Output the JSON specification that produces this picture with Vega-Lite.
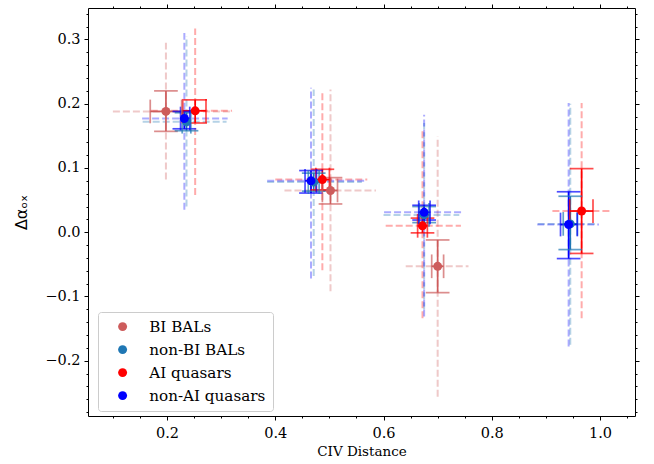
{
  "$schema": "https://vega.github.io/schema/vega-lite/v6.json",
  "autosize": {"type": "none"},
  "width": 547,
  "height": 408,
  "padding": {"left": 88, "top": 8, "right": 19, "bottom": 48},
  "background": "white",
  "config": {
    "view": {"stroke": "black", "strokeWidth": 1},
    "axis": {"grid": false, "domain": false, "tickColor": "black", "labelColor": "black", "titleColor": "black", "labelFont": "DejaVu Serif", "titleFont": "DejaVu Serif", "labelFontSize": 14.5, "titleFontSize": 13.5, "titleFontWeight": "normal"}
  },
  "data": {"values": [
    {"g": "BI BALs", "x": 0.198, "y": 0.188, "xl": 0.169, "xh": 0.227, "yl": 0.157, "yh": 0.220, "dxl": 0.100, "dxh": 0.322, "dyl": 0.082, "dyh": 0.295},
    {"g": "BI BALs", "x": 0.502, "y": 0.065, "xl": 0.487, "xh": 0.515, "yl": 0.044, "yh": 0.085, "dxl": 0.417, "dxh": 0.586, "dyl": -0.092, "dyh": 0.222},
    {"g": "BI BALs", "x": 0.700, "y": -0.053, "xl": 0.689, "xh": 0.711, "yl": -0.094, "yh": -0.012, "dxl": 0.641, "dxh": 0.757, "dyl": -0.256, "dyh": 0.149},
    {"g": "non-BI BALs", "x": 0.236, "y": 0.172, "xl": 0.228, "xh": 0.244, "yl": 0.158, "yh": 0.186, "dxl": 0.155, "dxh": 0.310, "dyl": 0.040, "dyh": 0.305},
    {"g": "non-BI BALs", "x": 0.471, "y": 0.078, "xl": 0.461, "xh": 0.481, "yl": 0.064, "yh": 0.092, "dxl": 0.385, "dxh": 0.560, "dyl": -0.068, "dyh": 0.222},
    {"g": "non-BI BALs", "x": 0.675, "y": 0.027, "xl": 0.666, "xh": 0.684, "yl": 0.015, "yh": 0.040, "dxl": 0.600, "dxh": 0.740, "dyl": -0.120, "dyh": 0.170},
    {"g": "non-BI BALs", "x": 0.945, "y": 0.013, "xl": 0.932, "xh": 0.958, "yl": -0.027, "yh": 0.056, "dxl": 0.885, "dxh": 0.995, "dyl": -0.175, "dyh": 0.200},
    {"g": "AI quasars", "x": 0.252, "y": 0.189, "xl": 0.229, "xh": 0.272, "yl": 0.170, "yh": 0.206, "dxl": 0.170, "dxh": 0.320, "dyl": 0.058, "dyh": 0.317},
    {"g": "AI quasars", "x": 0.487, "y": 0.082, "xl": 0.475, "xh": 0.500, "yl": 0.066, "yh": 0.098, "dxl": 0.400, "dxh": 0.570, "dyl": -0.059, "dyh": 0.219},
    {"g": "AI quasars", "x": 0.672, "y": 0.010, "xl": 0.663, "xh": 0.681, "yl": -0.001, "yh": 0.022, "dxl": 0.604, "dxh": 0.743, "dyl": -0.134, "dyh": 0.160},
    {"g": "AI quasars", "x": 0.966, "y": 0.033, "xl": 0.944, "xh": 0.987, "yl": -0.033, "yh": 0.099, "dxl": 0.912, "dxh": 1.018, "dyl": -0.134, "dyh": 0.201},
    {"g": "non-AI quasars", "x": 0.232, "y": 0.177, "xl": 0.225, "xh": 0.242, "yl": 0.161, "yh": 0.188, "dxl": 0.154, "dxh": 0.312, "dyl": 0.035, "dyh": 0.310},
    {"g": "non-AI quasars", "x": 0.466, "y": 0.080, "xl": 0.455, "xh": 0.476, "yl": 0.061, "yh": 0.096, "dxl": 0.385, "dxh": 0.565, "dyl": -0.072, "dyh": 0.225},
    {"g": "non-AI quasars", "x": 0.675, "y": 0.031, "xl": 0.665, "xh": 0.686, "yl": 0.019, "yh": 0.042, "dxl": 0.601, "dxh": 0.745, "dyl": -0.131, "dyh": 0.183},
    {"g": "non-AI quasars", "x": 0.942, "y": 0.012, "xl": 0.927, "xh": 0.958, "yl": -0.041, "yh": 0.063, "dxl": 0.884, "dxh": 0.998, "dyl": -0.178, "dyh": 0.201}
  ]},
  "resolve": {"axis": {"x": "independent", "y": "independent"}},
  "layer": [
    {
      "mark": {"type": "rule", "strokeDash": [7, 3], "strokeWidth": 2, "opacity": 0.33},
      "encoding": {
        "x": {"field": "x", "type": "quantitative", "scale": {"domain": [0.054, 1.0646], "nice": false, "zero": false},
              "axis": {"orient": "bottom", "values": [0.2, 0.4, 0.6, 0.8, 1.0], "format": ".1f", "title": "CIV Distance", "labelFont": "DejaVu Serif", "titleFont": "DejaVu Serif", "tickSize": 4, "labelPadding": 6, "titlePadding": 5}},
        "y": {"field": "dyl", "type": "quantitative", "scale": {"domain": [-0.286, 0.349], "nice": false, "zero": false},
              "axis": {"orient": "left", "values": [-0.2, -0.1, 0.0, 0.1, 0.2, 0.3], "format": ".1f", "title": "Δαₒₓ", "labelFont": "DejaVu Serif", "titleFont": "DejaVu Sans", "titleFontSize": 16, "tickSize": 4, "labelPadding": 4, "titlePadding": 15}},
        "y2": {"field": "dyh"},
        "stroke": {"field": "g", "type": "nominal", "scale": {"domain": ["non-AI quasars", "AI quasars", "non-BI BALs", "BI BALs"], "range": ["#0000ff", "#ff0000", "#1f77b4", "#cd5c5c"]}, "legend": null}
      }
    },
    {
      "mark": {"type": "rule", "strokeDash": [7, 3], "strokeWidth": 2, "opacity": 0.33},
      "encoding": {
        "x": {"field": "dxl", "type": "quantitative",
              "axis": {"orient": "bottom", "values": [0.1, 0.15, 0.25, 0.3, 0.35, 0.45, 0.5, 0.55, 0.65, 0.7, 0.75, 0.85, 0.9, 0.95, 1.05], "labels": false, "title": null, "tickSize": 2}},
        "x2": {"field": "dxh"},
        "y": {"field": "y", "type": "quantitative",
              "axis": {"orient": "left", "values": [-0.28, -0.26, -0.24, -0.22, -0.18, -0.16, -0.14, -0.12, -0.08, -0.06, -0.04, -0.02, 0.02, 0.04, 0.06, 0.08, 0.12, 0.14, 0.16, 0.18, 0.22, 0.24, 0.26, 0.28, 0.32, 0.34], "labels": false, "title": null, "tickSize": 2}},
        "stroke": {"field": "g", "type": "nominal", "legend": null}
      }
    },
    {
      "mark": {"type": "rule", "strokeWidth": 1.7},
      "encoding": {
        "x": {"field": "x", "type": "quantitative",
              "axis": {"orient": "top", "values": [0.2, 0.4, 0.6, 0.8, 1.0], "labels": false, "title": null, "tickSize": 4}},
        "y": {"field": "yl", "type": "quantitative",
              "axis": {"orient": "right", "values": [-0.2, -0.1, 0.0, 0.1, 0.2, 0.3], "labels": false, "title": null, "tickSize": 4}},
        "y2": {"field": "yh"},
        "stroke": {"field": "g", "type": "nominal", "legend": null}
      }
    },
    {
      "mark": {"type": "rule", "strokeWidth": 1.7},
      "encoding": {
        "x": {"field": "xl", "type": "quantitative",
              "axis": {"orient": "top", "values": [0.1, 0.15, 0.25, 0.3, 0.35, 0.45, 0.5, 0.55, 0.65, 0.7, 0.75, 0.85, 0.9, 0.95, 1.05], "labels": false, "title": null, "tickSize": 2}},
        "x2": {"field": "xh"},
        "y": {"field": "y", "type": "quantitative",
              "axis": {"orient": "right", "values": [-0.28, -0.26, -0.24, -0.22, -0.18, -0.16, -0.14, -0.12, -0.08, -0.06, -0.04, -0.02, 0.02, 0.04, 0.06, 0.08, 0.12, 0.14, 0.16, 0.18, 0.22, 0.24, 0.26, 0.28, 0.32, 0.34], "labels": false, "title": null, "tickSize": 2}},
        "stroke": {"field": "g", "type": "nominal", "legend": null}
      }
    },
    {
      "mark": {"type": "tick", "orient": "horizontal", "size": 22, "thickness": 0.01, "filled": false, "strokeWidth": 1.7},
      "encoding": {
        "x": {"field": "x", "type": "quantitative", "axis": null},
        "y": {"field": "yl", "type": "quantitative", "axis": null},
        "stroke": {"field": "g", "type": "nominal", "legend": null}
      }
    },
    {
      "mark": {"type": "tick", "orient": "horizontal", "size": 22, "thickness": 0.01, "filled": false, "strokeWidth": 1.7},
      "encoding": {
        "x": {"field": "x", "type": "quantitative", "axis": null},
        "y": {"field": "yh", "type": "quantitative", "axis": null},
        "stroke": {"field": "g", "type": "nominal", "legend": null}
      }
    },
    {
      "mark": {"type": "tick", "orient": "vertical", "size": 22, "thickness": 0.01, "filled": false, "strokeWidth": 1.7},
      "encoding": {
        "x": {"field": "xl", "type": "quantitative", "axis": null},
        "y": {"field": "y", "type": "quantitative", "axis": null},
        "stroke": {"field": "g", "type": "nominal", "legend": null}
      }
    },
    {
      "mark": {"type": "tick", "orient": "vertical", "size": 22, "thickness": 0.01, "filled": false, "strokeWidth": 1.7},
      "encoding": {
        "x": {"field": "xh", "type": "quantitative", "axis": null},
        "y": {"field": "y", "type": "quantitative", "axis": null},
        "stroke": {"field": "g", "type": "nominal", "legend": null}
      }
    },
    {
      "mark": {"type": "point", "filled": true, "shape": "circle", "size": 80, "opacity": 1},
      "encoding": {
        "x": {"field": "x", "type": "quantitative", "axis": null},
        "y": {"field": "y", "type": "quantitative", "axis": null},
        "color": {"field": "g", "type": "nominal",
                  "scale": {"domain": ["BI BALs", "non-BI BALs", "AI quasars", "non-AI quasars"], "range": ["#cd5c5c", "#1f77b4", "#ff0000", "#0000ff"]},
                  "legend": {"title": null, "orient": "none", "legendX": 10, "legendY": 304, "padding": 7, "symbolOffset": 10, "labelFont": "DejaVu Serif", "labelFontSize": 15.2, "labelColor": "black", "rowPadding": 7, "symbolSize": 80, "symbolType": "circle", "symbolStrokeWidth": 0, "labelOffset": 19, "strokeColor": "#cccccc", "cornerRadius": 3, "fillColor": "white"}}
      }
    }
  ]
}
